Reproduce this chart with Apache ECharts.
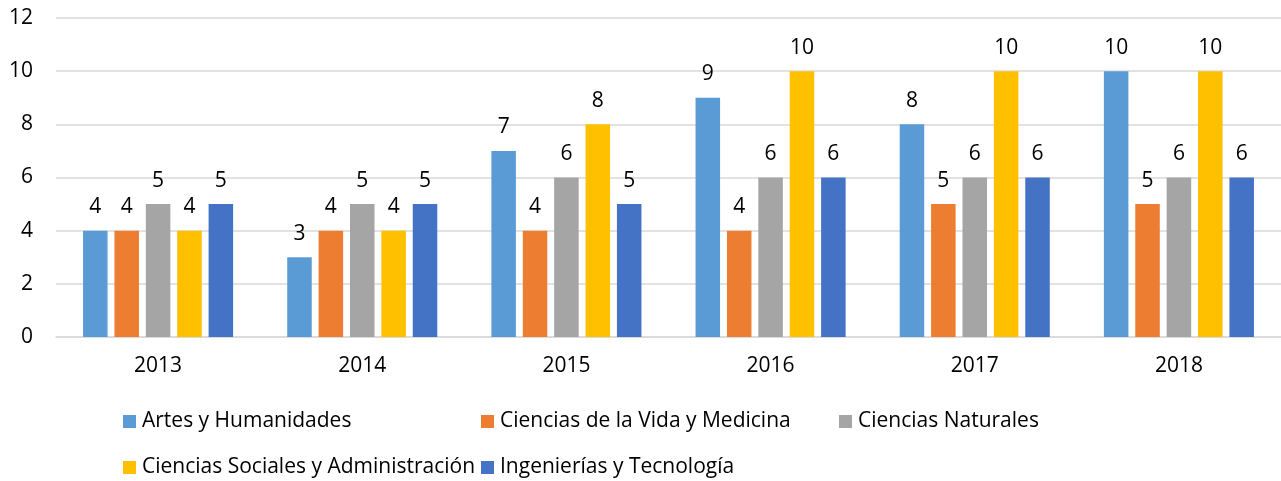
<!DOCTYPE html>
<html>
<head>
<meta charset="utf-8">
<script src="https://cdn.jsdelivr.net/npm/echarts@6/dist/echarts.min.js"></script>
<style>html,body{margin:0;padding:0;background:#fff}#c{width:1281px;height:481px}</style>
</head>
<body>
<div id="c"></div>
<script>
const categories = ['2013','2014','2015','2016','2017','2018'];
const seriesNames = ['Artes y Humanidades','Ciencias de la Vida y Medicina','Ciencias Naturales','Ciencias Sociales y Administración','Ingenierías y Tecnología'];
const artes = [4,3,7,9,8,10];
const vida = [4,4,4,4,5,5];
const naturales = [5,5,6,6,6,6];
const sociales = [4,4,8,10,10,10];
const ingenierias = [5,5,5,6,6,6];
const yTicks = [0,2,4,6,8,10,12];

const values = [artes, vida, naturales, sociales, ingenierias];
const colors = ['#5B9BD5','#ED7D31','#A5A5A5','#FFC000','#4472C4'];
const FONT = 'Open Sans';
const FS = 21;
const legendPos = [[123,411],[481,411],[839,411],[123,457],[481,457]];

const chart = echarts.init(document.getElementById('c'), null, {renderer:'canvas'});
chart.setOption({
  animation:false,
  color: colors,
  grid:{left:56,right:0,top:18,bottom:144,containLabel:false},
  xAxis:{type:'category',data:categories,
    axisLine:{lineStyle:{color:'#d9d9d9',width:1.5}},axisTick:{show:false},
    axisLabel:{color:'#000',fontSize:FS,fontFamily:FONT,margin:19}},
  yAxis:{type:'value',min:yTicks[0],max:yTicks[yTicks.length-1],interval:2,
    axisLine:{show:false},axisTick:{show:false},
    splitLine:{lineStyle:{color:'#d9d9d9',width:1.5}},
    axisLabel:{color:'#000',fontSize:FS,fontFamily:FONT,margin:23}},
  legend: seriesNames.map((n,i)=>({
    data:[n],left:legendPos[i][0],top:legendPos[i][1],
    icon:'rect',itemWidth:13,itemHeight:13,itemGap:6,
    textStyle:{color:'#000',fontSize:FS,fontFamily:FONT,padding:[0,0,0,1]},
    padding:0
  })),
  series: seriesNames.map((n,i)=>({
    name:n,type:'bar',data:values[i],
    barGap:'28%',barCategoryGap:'26.5%',
    itemStyle:{color:colors[i]},
    label:{show:true,position:'top',distance:13,color:'#000',fontSize:FS,fontFamily:FONT}
  }))
});
</script>
</body>
</html>
